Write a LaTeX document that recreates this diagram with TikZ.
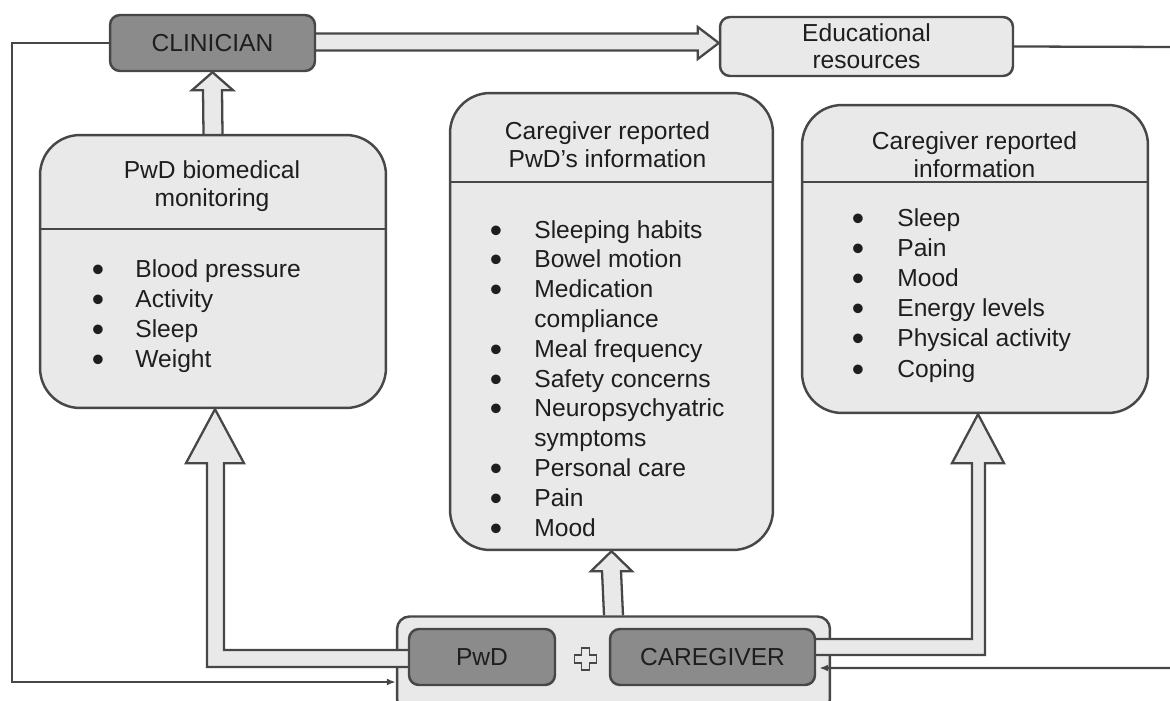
\documentclass[tikz,border=0pt]{standalone}
\usepackage{fontspec}
\setmainfont{Liberation Sans}
\usetikzlibrary{calc,arrows.meta,positioning}
\definecolor{edge}{HTML}{474747}
\definecolor{boxfill}{HTML}{E9E9E9}
\definecolor{darkfill}{HTML}{8B8B8B}
\definecolor{ink}{HTML}{1E1E1E}
\pgfdeclarelayer{back}
\pgfdeclarelayer{front}
\pgfsetlayers{back,main,front}

\begin{document}
\begin{tikzpicture}[x=0.02cm,y=-0.02cm,
    every node/.style={font=\fontsize{14}{17}\selectfont, text=ink},
    panel/.style={draw=edge, line width=1.4pt, fill=boxfill, rounded corners=0.8cm, inner sep=0pt},
    actor/.style={draw=edge, line width=1.4pt, fill=darkfill, rounded corners=0.2cm, minimum height=1.12cm, inner sep=0pt},
    hollow/.style={draw=edge, line width=1.3pt, fill=boxfill, line join=miter},
    link/.style={draw=edge, line width=1.3pt},
    title/.style={align=center, anchor=base, inner sep=0pt, font=\fontsize{14}{15.9}\selectfont},
    entry/.style={anchor=base west, inner sep=0pt},
    dot/.style={anchor=base, inner sep=0pt, text height=8pt, text depth=0pt, font=\fontsize{20}{20}\selectfont}]

  \useasboundingbox (0,0) rectangle (1170,700);

  % top row
  \node[actor, minimum width=4.1cm] (clin) at (212.5,43) {CLINICIAN};
  \node[panel, rounded corners=0.2cm, minimum width=5.86cm, minimum height=1.18cm,
        align=center, font=\fontsize{14}{15.6}\selectfont] (edu) at (866.5,46.5) {Educational\\resources};

  % the three panels
  \node[panel, minimum width=6.92cm, minimum height=5.46cm] (bio) at (213,271.5) {};
  \node[panel, minimum width=6.46cm, minimum height=9.14cm] (mid) at (611.5,321.5) {};
  \node[panel, minimum width=6.92cm, minimum height=6.16cm] (rep) at (975,259) {};

  % titles sit on the baseline of their last line
  \node[title] (bio-t) at (212,206) {PwD biomedical\\monitoring};
  \node[title] (mid-t) at (607.5,167) {Caregiver reported\\PwD’s information};
  \node[title] (rep-t) at (974.5,177) {Caregiver reported\\information};

  \draw[link] (bio.west |- 0,229) -- (bio.east |- 0,229);
  \draw[link] (mid.west |- 0,182) -- (mid.east |- 0,182);
  \draw[link] (rep.west |- 0,182) -- (rep.east |- 0,182);

  \foreach \b/\t [count=\i from 0] in {1/Blood pressure, 1/Activity, 1/Sleep, 1/Weight}{
    \node[entry] at (135,277+30*\i) {\t};
    \ifnum\b=1 \node[dot] at (98,281+30*\i) {\textbullet};\fi
  }
  \foreach \b/\t [count=\i from 0] in {1/Sleeping habits, 1/Bowel motion, 1/Medication,
      0/compliance, 1/Meal frequency, 1/Safety concerns, 1/Neuropsychyatric, 0/symptoms,
      1/Personal care, 1/Pain, 1/Mood}{
    \node[entry] at (534,238+29.8*\i) {\t};
    \ifnum\b=1 \node[dot] at (496,242+29.8*\i) {\textbullet};\fi
  }
  \foreach \b/\t [count=\i from 0] in {1/Sleep, 1/Pain, 1/Mood, 1/Energy levels,
      1/Physical activity, 1/Coping}{
    \node[entry] at (897,226+30.2*\i) {\t};
    \ifnum\b=1 \node[dot] at (858,230+30.2*\i) {\textbullet};\fi
  }

  % bottom: PwD + caregiver
  \node[panel, rounded corners=0.25cm, minimum width=8.66cm, minimum height=1.9cm] (team) at (613.5,664) {};
  \begin{pgfonlayer}{front}
    \node[actor, minimum width=2.92cm] (pwd) at (482,657) {PwD};
    \node[actor, minimum width=4.1cm] (cg) at (712.5,657) {CAREGIVER};
    \coordinate (plus) at ($(pwd.east)!0.5!(cg.west)+(3,2)$);
    \filldraw[hollow, line width=1.1pt] ($(plus)+(-4,-11)$) -- ($(plus)+(4,-11)$) -- ($(plus)+(4,-4)$)
      -- ($(plus)+(11,-4)$) -- ($(plus)+(11,4)$) -- ($(plus)+(4,4)$) -- ($(plus)+(4,11)$)
      -- ($(plus)+(-4,11)$) -- ($(plus)+(-4,4)$) -- ($(plus)+(-11,4)$) -- ($(plus)+(-11,-4)$)
      -- ($(plus)+(-4,-4)$) -- cycle;
  \end{pgfonlayer}

  % hollow arrows behind the boxes
  \begin{pgfonlayer}{back}
    \filldraw[hollow] ($(bio.north)+(-9.5,0)$) -- ($(clin.south)+(-9.5,18)$) -- ($(clin.south)+(-20.5,18)$)
      -- (clin.south) -- ($(clin.south)+(20.5,18)$) -- ($(clin.south)+(9.5,18)$) -- ($(bio.north)+(9.5,0)$);
    \filldraw[hollow] ($(clin.east)+(0,-9.5)$) -- ($(edu.west |- clin.east)+(-21,-9.5)$)
      -- ($(edu.west |- clin.east)+(-21,-16)$) -- (edu.west |- clin.east)
      -- ($(edu.west |- clin.east)+(-21,16)$) -- ($(edu.west |- clin.east)+(-21,7.5)$) -- ($(clin.east)+(0,7.5)$);
    \filldraw[hollow] ($(team.north)+(-9.5,0)$) -- ($(mid.south)+(-9.5,20)$) -- ($(mid.south)+(-20.5,20)$)
      -- (mid.south) -- ($(mid.south)+(20.5,20)$) -- ($(mid.south)+(9.5,20)$) -- ($(team.north)+(9.5,0)$);
  \end{pgfonlayer}

  % bent hollow arrows into the panels
  \filldraw[hollow] ($(pwd.west)+(0,-7)$) -| ($(bio.south)+(11,54)$) -- ($(bio.south)+(31,54)$)
    -- ($(bio.south)+(2,0)$) -- ($(bio.south)+(-27,54)$) -- ($(bio.south)+(-6,54)$) |- ($(pwd.west)+(0,10)$);
  \filldraw[hollow] ($(cg.east)+(0,-18)$) -| ($(rep.south)+(-3,49)$) -- ($(rep.south)+(-23,49)$)
    -- ($(rep.south)+(3,0)$) -- ($(rep.south)+(29,49)$) -- ($(rep.south)+(10,49)$) |- ($(cg.east)+(0,-2)$);

  % feedback lines
  \coordinate (lbot) at (12,682);
  \coordinate (rtop) at (1180,47);
  \coordinate (rbot) at (1180,668);
  \draw[link, -{Latex[length=1.8mm,width=1.4mm]}] (clin.west) -| (lbot) -- (lbot -| team.west);
  \draw[link, -{Latex[length=1.8mm,width=1.4mm]}] (edu.east) -- (rtop) -- (rbot) -- ($(rbot -| cg.east)+(3,0)$);
\end{tikzpicture}
\end{document}
